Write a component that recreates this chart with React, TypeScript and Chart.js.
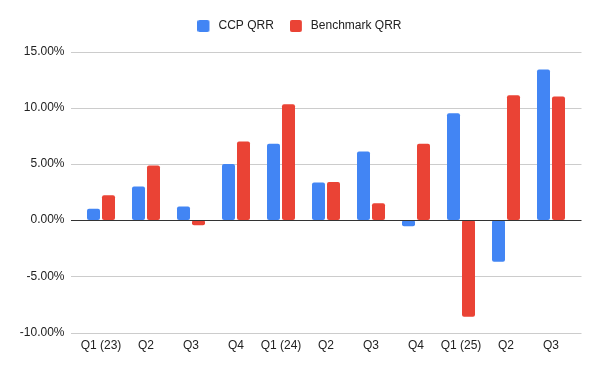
import React, { useEffect, useRef } from 'react';
import { Chart, registerables } from 'chart.js';

Chart.register(...registerables);

const categories = ['Q1 (23)', 'Q2', 'Q3', 'Q4', 'Q1 (24)', 'Q2', 'Q3', 'Q4', 'Q1 (25)', 'Q2', 'Q3'];
const ccpQrr = [1.0, 3.0, 1.2, 5.0, 6.8, 3.35, 6.1, -0.55, 9.5, -3.7, 13.4];
const benchmarkQrr = [2.2, 4.85, -0.45, 7.0, 10.3, 3.4, 1.5, 6.8, -8.6, 11.1, 11.0];
const seriesNames = ['CCP QRR', 'Benchmark QRR'];
const seriesColors = ['#4285F4', '#EA4335'];
const yMin = -10;
const yMax = 15;
const yStep = 5;

const FONT = 'Arial, "Liberation Sans", sans-serif';
const TEXT = '#222222';

function legendSwatch(color: string): HTMLCanvasElement {
  const c = document.createElement('canvas');
  c.width = 15;
  c.height = 12;
  const g = c.getContext('2d')!;
  g.fillStyle = color;
  const r = 2;
  g.beginPath();
  g.moveTo(r, 0);
  g.lineTo(12 - r, 0);
  g.quadraticCurveTo(12, 0, 12, r);
  g.lineTo(12, 12 - r);
  g.quadraticCurveTo(12, 12, 12 - r, 12);
  g.lineTo(r, 12);
  g.quadraticCurveTo(0, 12, 0, 12 - r);
  g.lineTo(0, r);
  g.quadraticCurveTo(0, 0, r, 0);
  g.closePath();
  g.fill();
  return c;
}

const gridPlugin = {
  id: 'extGrid',
  beforeDatasetsDraw(chart: any) {
    const { ctx, chartArea, scales } = chart;
    const y = scales.y;
    ctx.save();
    ctx.lineWidth = 1;
    ctx.strokeStyle = '#cccccc';
    y.ticks.forEach((t: any) => {
      if (t.value === 0) return;
      const py = Math.round(y.getPixelForValue(t.value)) + 0.5;
      ctx.beginPath();
      ctx.moveTo(chartArea.left - 7.5, py);
      ctx.lineTo(chartArea.right + 8, py);
      ctx.stroke();
    });
    ctx.restore();
  },
  afterDatasetsDraw(chart: any) {
    const { ctx, chartArea, scales } = chart;
    const y = scales.y;
    const py = Math.round(y.getPixelForValue(0)) + 0.5;
    ctx.save();
    ctx.lineWidth = 1;
    ctx.strokeStyle = '#333333';
    ctx.beginPath();
    ctx.moveTo(chartArea.left - 7.5, py);
    ctx.lineTo(chartArea.right + 8, py);
    ctx.stroke();
    ctx.restore();
  },
};

const legendLayoutPlugin = {
  id: 'legendLayout',
  beforeInit(chart: any) {
    const legend = chart.legend;
    if (!legend) return;
    const origFit = legend.fit;
    legend.fit = function () {
      origFit.bind(legend)();
      legend.height = 47.5;
    };
  },
  afterLayout(chart: any) {
    const legend = chart.legend;
    if (!legend) return;
    legend.left = 0;
    legend.right = 599;
    legend.width = 599;
  },
};

export default function App() {
  const ref = useRef<HTMLCanvasElement | null>(null);

  useEffect(() => {
    if (!ref.current) return;
    const swatches = seriesColors.map(legendSwatch);
    const chart = new Chart(ref.current, {
      type: 'bar',
      data: {
        labels: categories,
        datasets: [
          {
            label: seriesNames[0],
            data: ccpQrr,
            backgroundColor: seriesColors[0],
            borderRadius: 2,
            borderSkipped: false,
            categoryPercentage: 30 / 45,
            barPercentage: 13 / 15,
          },
          {
            label: seriesNames[1],
            data: benchmarkQrr,
            backgroundColor: seriesColors[1],
            borderRadius: 2,
            borderSkipped: false,
            categoryPercentage: 30 / 45,
            barPercentage: 13 / 15,
          },
        ],
      },
      options: {
        responsive: false,
        animation: false,
        devicePixelRatio: 1,
        layout: { padding: { top: 4, right: 26.5, bottom: 0, left: 0 } },
        plugins: {
          legend: {
            position: 'top',
            align: 'center',
            labels: {
              boxWidth: 12,
              boxHeight: 12,
              usePointStyle: true,
              pointStyleWidth: 15,
              padding: 16,
              color: TEXT,
              font: { family: FONT, size: 12 },
              generateLabels(ch: any) {
                const items = Chart.defaults.plugins.legend.labels.generateLabels(ch);
                return items.map((it: any, i: number) => ({ ...it, pointStyle: swatches[i] }));
              },
            },
          },
          tooltip: { enabled: false },
        },
        scales: {
          x: {
            offset: true,
            grid: { display: false, drawTicks: false },
            border: { display: false },
            ticks: {
              padding: 6,
              color: TEXT,
              font: { family: FONT, size: 12 },
              maxRotation: 0,
              autoSkip: false,
            },
            afterFit(scale: any) {
              scale.height = 38.5;
            },
          },
          y: {
            min: yMin,
            max: yMax,
            grid: { display: false, drawTicks: false },
            border: { display: false },
            ticks: {
              stepSize: yStep,
              padding: 14,
              color: TEXT,
              font: { family: FONT, size: 12 },
              callback: (v: any) => Number(v).toFixed(2) + '%',
            },
            afterFit(scale: any) {
              scale.width = 78.5;
            },
          },
        },
      },
      plugins: [gridPlugin, legendLayoutPlugin],
    } as any);
    return () => chart.destroy();
  }, []);

  return (
    <div style={{ position: 'absolute', left: 0, top: 0, width: 600, height: 371, background: '#fff' }}>
      <canvas ref={ref} width={600} height={371} />
    </div>
  );
}
